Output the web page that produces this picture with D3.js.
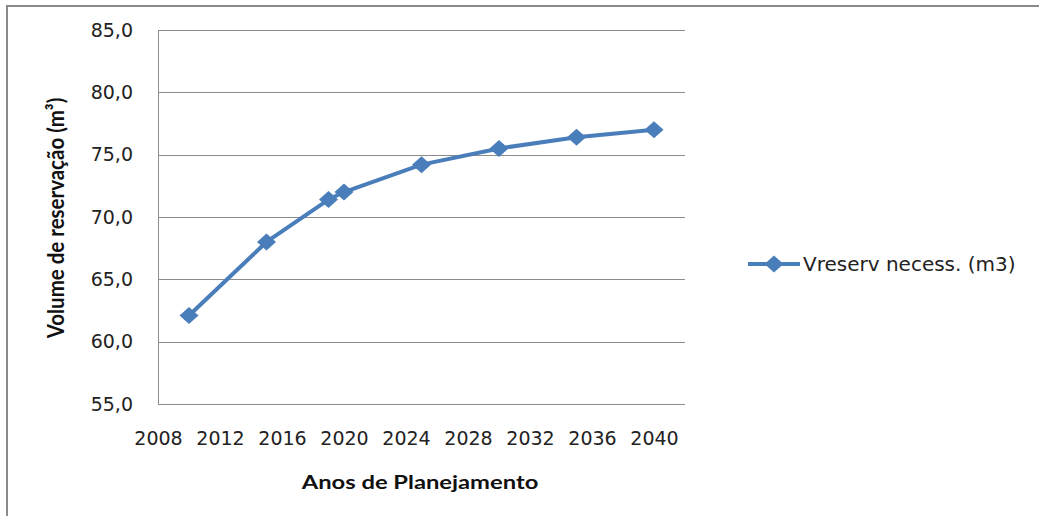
<!DOCTYPE html>
<html>
<head>
<meta charset="utf-8">
<script src="https://cdn.jsdelivr.net/npm/d3@7"></script>
<style>
  html, body { margin: 0; padding: 0; background: #fff; }
  svg { display: block; }
</style>
</head>
<body>
<div id="graph-container"><svg></svg></div>
<script>
// Data.
const years = [2010, 2015, 2019, 2020, 2025, 2030, 2035, 2040];
const volumes = [62.1, 68.0, 71.4, 72.0, 74.2, 75.5, 76.4, 77.0];
const xTicks = [2008, 2012, 2016, 2020, 2024, 2028, 2032, 2036, 2040];
const yTicks = [55, 60, 65, 70, 75, 80, 85];
const seriesName = 'Vreserv necess. (m3)';

const dataset = years.map((year, i) => ({ year, value: volumes[i] }));

const width = 1039, height = 516;
const blue = '#4a7ebb', grid = '#8c8c8c';

const svg = d3.select('#graph-container').select('svg')
  .attr('width', width)
  .attr('height', height);

// Chart border (only top and left visible in the crop).
svg.append('rect')
  .attr('x', 7).attr('y', 6)
  .attr('width', width + 20).attr('height', height + 20)
  .attr('fill', '#fff')
  .attr('stroke', '#8a8a8a')
  .attr('stroke-width', 2);

// Scales.
const xScale = d3.scaleLinear().domain([2008, 2042]).range([158, 685]);
const yScale = d3.scaleLinear().domain([55, 85]).range([404, 30]);

// Gridlines.
svg.append('g')
  .selectAll('line')
  .data(yTicks)
  .join('line')
  .attr('x1', xScale.range()[0])
  .attr('x2', xScale.range()[1])
  .attr('y1', d => Math.round(yScale(d)) + 0.5)
  .attr('y2', d => Math.round(yScale(d)) + 0.5)
  .attr('stroke', grid)
  .attr('stroke-width', 1);

// Y axis line.
svg.append('line')
  .attr('x1', xScale.range()[0] + 0.5).attr('x2', xScale.range()[0] + 0.5)
  .attr('y1', yScale.range()[0]).attr('y2', yScale.range()[1])
  .attr('stroke', grid);

// Y-Axis labels.
const fmt = d => d.toFixed(1).replace('.', ',');
svg.append('g')
  .attr('transform', `translate(${xScale.range()[0]},0)`)
  .call(d3.axisLeft(yScale).tickValues(yTicks).tickFormat(fmt).tickSize(0).tickPadding(25))
  .call(g => g.select('.domain').remove())
  .selectAll('text')
  .attr('font-family', 'DejaVu Sans, Verdana, sans-serif')
  .attr('font-size', 19)
  .attr('fill', '#222');

// X-Axis labels.
svg.append('g')
  .attr('transform', `translate(0,${yScale.range()[0]})`)
  .call(d3.axisBottom(xScale).tickValues(xTicks).tickFormat(d3.format('d')).tickSize(0).tickPadding(28))
  .call(g => g.select('.domain').remove())
  .selectAll('text')
  .attr('font-family', 'DejaVu Sans, Verdana, sans-serif')
  .attr('font-size', 19)
  .attr('fill', '#222');

// Axis titles (the source picture is stretched horizontally).
svg.append('text')
  .attr('transform', 'translate(420,489) scale(1.25,1)')
  .attr('text-anchor', 'middle')
  .attr('font-family', 'Lato, sans-serif')
  .attr('font-weight', 'bold')
  .attr('font-size', 19)
  .attr('fill', '#111')
  .text('Anos de Planejamento');

svg.append('text')
  .attr('transform', 'translate(64,218) rotate(-90) scale(1,1.15)')
  .attr('text-anchor', 'middle')
  .attr('font-family', 'Lato, sans-serif')
  .attr('font-weight', 'bold')
  .attr('font-size', 20.5)
  .attr('fill', '#111')
  .text('Volume de reservação (m³)');

// Line.
svg.append('path')
  .datum(dataset)
  .attr('fill', 'none')
  .attr('stroke', blue)
  .attr('stroke-width', 4)
  .attr('stroke-linejoin', 'round')
  .attr('d', d3.line().x(d => xScale(d.year)).y(d => yScale(d.value)));

// Diamond markers.
const diamond = 'M0,-8.5L9.5,0L0,8.5L-9.5,0Z';
svg.append('g')
  .selectAll('path')
  .data(dataset)
  .join('path')
  .attr('d', diamond)
  .attr('fill', blue)
  .attr('transform', d => `translate(${xScale(d.year)},${yScale(d.value)})`);

// Legend.
const legend = svg.append('g').attr('transform', 'translate(748,264)');
legend.append('line')
  .attr('x1', 0).attr('x2', 52)
  .attr('stroke', blue)
  .attr('stroke-width', 4);
legend.append('path')
  .attr('d', diamond)
  .attr('fill', blue)
  .attr('transform', 'translate(26,0)');
legend.append('text')
  .attr('x', 55).attr('y', 7)
  .attr('font-family', 'DejaVu Sans, Verdana, sans-serif')
  .attr('font-size', 20)
  .attr('fill', '#222')
  .text(seriesName);
</script>
</body>
</html>
